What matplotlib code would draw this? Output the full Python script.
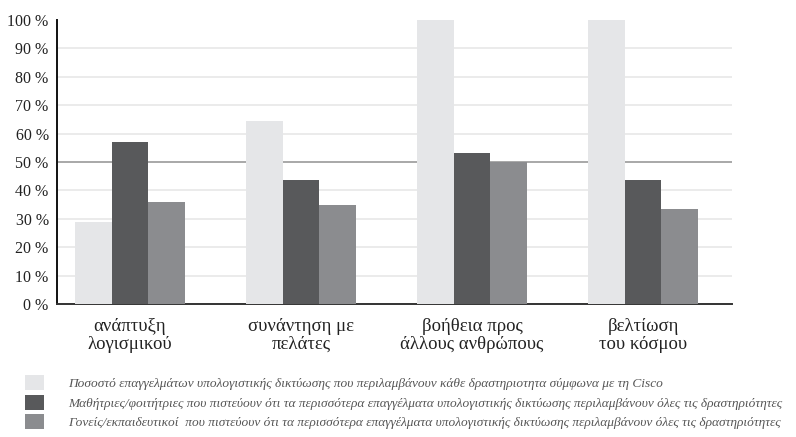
import matplotlib
matplotlib.use("Agg")
import matplotlib.pyplot as plt
import numpy as np

plt.rcParams['font.family'] = ['Liberation Serif', 'DejaVu Serif']

categories = ["ανάπτυξη\nλογισμικού", "συνάντηση με\nπελάτες",
              "βοήθεια προς\nάλλους ανθρώπους", "βελτίωση\nτου κόσμου"]
series_names = [
    "Ποσοστό επαγγελμάτων υπολογιστικής δικτύωσης που περιλαμβάνουν κάθε δραστηριοτητα σύμφωνα με τη Cisco",
    "Μαθήτριες/φοιτήτριες που πιστεύουν ότι τα περισσότερα επαγγέλματα υπολογιστικής δικτύωσης περιλαμβάνουν όλες τις δραστηριότητες",
    "Γονείς/εκπαιδευτικοί  που πιστεύουν ότι τα περισσότερα επαγγέλματα υπολογιστικής δικτύωσης περιλαμβάνουν όλες τις δραστηριότητες",
]
cisco = [29, 64.6, 100, 100]
students = [57, 43.5, 53.1, 43.5]
parents = [36, 34.8, 50, 33.3]
colors = ["#e5e6e8", "#58595b", "#8b8c8f"]
yticks = list(range(0, 101, 10))

fig = plt.figure(figsize=(7.96, 4.37), dpi=100)
ax = fig.add_axes([57/796, 1-304/437, (732-57)/796, (304-20)/437])

x = np.arange(len(categories))
w = 0.215
handles = []
for i, (vals, c) in enumerate(zip([cisco, students, parents], colors)):
    b = ax.bar(x + (i-1)*w, vals, w, color=c, zorder=3, label=series_names[i])
    handles.append(b)

for t in yticks[1:-1]:
    ax.axhline(t, color="#a8a8a8" if t == 50 else "#e8e8e8",
               lw=1.4 if t == 50 else 1.2, zorder=1)

ax.set_xlim(-0.427, 3.52)
ax.set_ylim(0, 100)
ax.set_yticks(yticks)
ax.set_yticklabels([f"{t} %" for t in yticks], fontsize=11.5, color="#222222")
ax.set_xticks(x)
ax.set_xticklabels(categories, fontsize=13.5, color="#222222", linespacing=1.1)
ax.tick_params(axis='both', length=0)
ax.tick_params(axis='y', pad=6)
ax.tick_params(axis='x', pad=10)
for s in ["top", "right"]:
    ax.spines[s].set_visible(False)
ax.spines["left"].set_color("#111111")
ax.spines["left"].set_linewidth(1.4)
ax.spines["bottom"].set_color("#333333")
ax.spines["bottom"].set_linewidth(1.4)

fig.legend(handles=handles, labels=series_names, loc="upper left",
           bbox_to_anchor=(25/796, 1-375/437), frameon=False,
           prop={'style': 'italic', 'size': 9.6}, labelcolor="#555555",
           handlelength=1.44, handleheight=1.36, labelspacing=0.34,
           handletextpad=1.8, borderpad=0, borderaxespad=0)

fig.savefig("out.png", dpi=100)
